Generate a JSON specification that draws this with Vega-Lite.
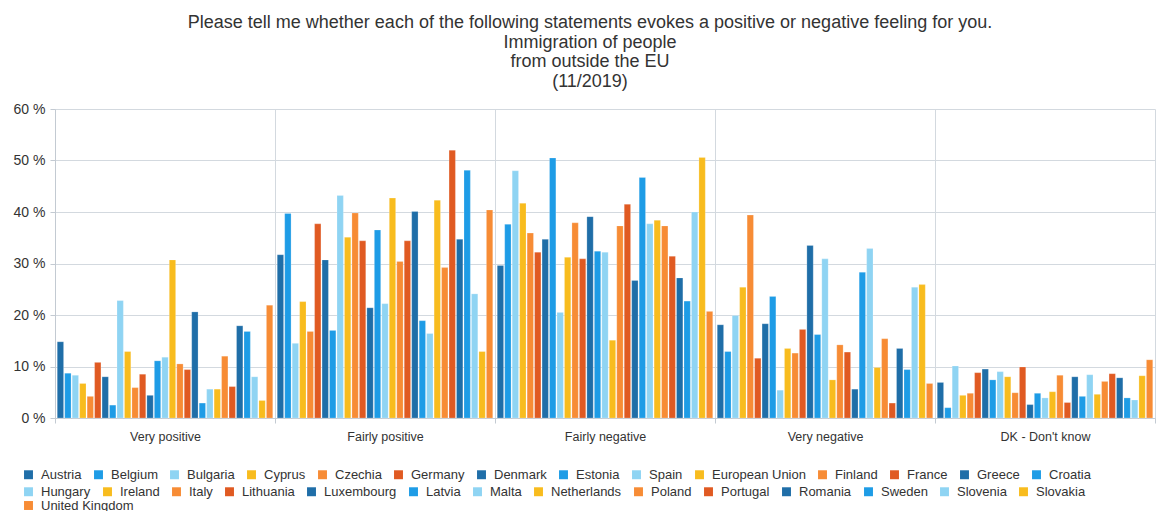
{
  "$schema": "https://vega.github.io/schema/vega-lite/v6.json",
  "autosize": "none",
  "width": 1100,
  "height": 309,
  "padding": {"left": 55, "top": 109, "right": 4, "bottom": 93},
  "background": "white",
  "title": {
    "text": ["Please tell me whether each of the following statements evokes a positive or negative feeling for you.", "Immigration of people", "from outside the EU", "(11/2019)"],
    "font": "Liberation Sans",
    "fontSize": 18,
    "fontWeight": "normal",
    "color": "#333333",
    "lineHeight": 19.7,
    "anchor": "middle",
    "dx": -15,
    "offset": 11
  },
  "data": {
    "values": [
      {"c": "Very positive", "k": "Austria", "v": 14.8},
      {"c": "Very positive", "k": "Belgium", "v": 8.7},
      {"c": "Very positive", "k": "Bulgaria", "v": 8.3},
      {"c": "Very positive", "k": "Cyprus", "v": 6.7},
      {"c": "Very positive", "k": "Czechia", "v": 4.2},
      {"c": "Very positive", "k": "Germany", "v": 10.8},
      {"c": "Very positive", "k": "Denmark", "v": 8.0},
      {"c": "Very positive", "k": "Estonia", "v": 2.5},
      {"c": "Very positive", "k": "Spain", "v": 22.8},
      {"c": "Very positive", "k": "European Union", "v": 12.9},
      {"c": "Very positive", "k": "Finland", "v": 5.9},
      {"c": "Very positive", "k": "France", "v": 8.5},
      {"c": "Very positive", "k": "Greece", "v": 4.4},
      {"c": "Very positive", "k": "Croatia", "v": 11.1},
      {"c": "Very positive", "k": "Hungary", "v": 11.8},
      {"c": "Very positive", "k": "Ireland", "v": 30.7},
      {"c": "Very positive", "k": "Italy", "v": 10.5},
      {"c": "Very positive", "k": "Lithuania", "v": 9.4},
      {"c": "Very positive", "k": "Luxembourg", "v": 20.6},
      {"c": "Very positive", "k": "Latvia", "v": 2.9},
      {"c": "Very positive", "k": "Malta", "v": 5.6},
      {"c": "Very positive", "k": "Netherlands", "v": 5.6},
      {"c": "Very positive", "k": "Poland", "v": 12.0},
      {"c": "Very positive", "k": "Portugal", "v": 6.1},
      {"c": "Very positive", "k": "Romania", "v": 17.9},
      {"c": "Very positive", "k": "Sweden", "v": 16.8},
      {"c": "Very positive", "k": "Slovenia", "v": 8.0},
      {"c": "Very positive", "k": "Slovakia", "v": 3.4},
      {"c": "Very positive", "k": "United Kingdom", "v": 21.9},
      {"c": "Fairly positive", "k": "Austria", "v": 31.7},
      {"c": "Fairly positive", "k": "Belgium", "v": 39.7},
      {"c": "Fairly positive", "k": "Bulgaria", "v": 14.5},
      {"c": "Fairly positive", "k": "Cyprus", "v": 22.6},
      {"c": "Fairly positive", "k": "Czechia", "v": 16.8},
      {"c": "Fairly positive", "k": "Germany", "v": 37.7},
      {"c": "Fairly positive", "k": "Denmark", "v": 30.7},
      {"c": "Fairly positive", "k": "Estonia", "v": 17.0},
      {"c": "Fairly positive", "k": "Spain", "v": 43.2},
      {"c": "Fairly positive", "k": "European Union", "v": 35.1},
      {"c": "Fairly positive", "k": "Finland", "v": 39.8},
      {"c": "Fairly positive", "k": "France", "v": 34.4},
      {"c": "Fairly positive", "k": "Greece", "v": 21.4},
      {"c": "Fairly positive", "k": "Croatia", "v": 36.5},
      {"c": "Fairly positive", "k": "Hungary", "v": 22.2},
      {"c": "Fairly positive", "k": "Ireland", "v": 42.7},
      {"c": "Fairly positive", "k": "Italy", "v": 30.4},
      {"c": "Fairly positive", "k": "Lithuania", "v": 34.4},
      {"c": "Fairly positive", "k": "Luxembourg", "v": 40.1},
      {"c": "Fairly positive", "k": "Latvia", "v": 18.9},
      {"c": "Fairly positive", "k": "Malta", "v": 16.4},
      {"c": "Fairly positive", "k": "Netherlands", "v": 42.3},
      {"c": "Fairly positive", "k": "Poland", "v": 29.2},
      {"c": "Fairly positive", "k": "Portugal", "v": 52.0},
      {"c": "Fairly positive", "k": "Romania", "v": 34.7},
      {"c": "Fairly positive", "k": "Sweden", "v": 48.1},
      {"c": "Fairly positive", "k": "Slovenia", "v": 24.1},
      {"c": "Fairly positive", "k": "Slovakia", "v": 12.9},
      {"c": "Fairly positive", "k": "United Kingdom", "v": 40.4},
      {"c": "Fairly negative", "k": "Austria", "v": 29.6},
      {"c": "Fairly negative", "k": "Belgium", "v": 37.6},
      {"c": "Fairly negative", "k": "Bulgaria", "v": 48.0},
      {"c": "Fairly negative", "k": "Cyprus", "v": 41.7},
      {"c": "Fairly negative", "k": "Czechia", "v": 35.9},
      {"c": "Fairly negative", "k": "Germany", "v": 32.2},
      {"c": "Fairly negative", "k": "Denmark", "v": 34.7},
      {"c": "Fairly negative", "k": "Estonia", "v": 50.5},
      {"c": "Fairly negative", "k": "Spain", "v": 20.5},
      {"c": "Fairly negative", "k": "European Union", "v": 31.2},
      {"c": "Fairly negative", "k": "Finland", "v": 37.9},
      {"c": "Fairly negative", "k": "France", "v": 30.9},
      {"c": "Fairly negative", "k": "Greece", "v": 39.1},
      {"c": "Fairly negative", "k": "Croatia", "v": 32.4},
      {"c": "Fairly negative", "k": "Hungary", "v": 32.2},
      {"c": "Fairly negative", "k": "Ireland", "v": 15.1},
      {"c": "Fairly negative", "k": "Italy", "v": 37.3},
      {"c": "Fairly negative", "k": "Lithuania", "v": 41.5},
      {"c": "Fairly negative", "k": "Luxembourg", "v": 26.7},
      {"c": "Fairly negative", "k": "Latvia", "v": 46.7},
      {"c": "Fairly negative", "k": "Malta", "v": 37.7},
      {"c": "Fairly negative", "k": "Netherlands", "v": 38.4},
      {"c": "Fairly negative", "k": "Poland", "v": 37.3},
      {"c": "Fairly negative", "k": "Portugal", "v": 31.4},
      {"c": "Fairly negative", "k": "Romania", "v": 27.2},
      {"c": "Fairly negative", "k": "Sweden", "v": 22.7},
      {"c": "Fairly negative", "k": "Slovenia", "v": 40.0},
      {"c": "Fairly negative", "k": "Slovakia", "v": 50.6},
      {"c": "Fairly negative", "k": "United Kingdom", "v": 20.7},
      {"c": "Very negative", "k": "Austria", "v": 18.1},
      {"c": "Very negative", "k": "Belgium", "v": 12.9},
      {"c": "Very negative", "k": "Bulgaria", "v": 19.9},
      {"c": "Very negative", "k": "Cyprus", "v": 25.4},
      {"c": "Very negative", "k": "Czechia", "v": 39.4},
      {"c": "Very negative", "k": "Germany", "v": 11.6},
      {"c": "Very negative", "k": "Denmark", "v": 18.3},
      {"c": "Very negative", "k": "Estonia", "v": 23.6},
      {"c": "Very negative", "k": "Spain", "v": 5.4},
      {"c": "Very negative", "k": "European Union", "v": 13.5},
      {"c": "Very negative", "k": "Finland", "v": 12.6},
      {"c": "Very negative", "k": "France", "v": 17.2},
      {"c": "Very negative", "k": "Greece", "v": 33.5},
      {"c": "Very negative", "k": "Croatia", "v": 16.2},
      {"c": "Very negative", "k": "Hungary", "v": 30.9},
      {"c": "Very negative", "k": "Ireland", "v": 7.4},
      {"c": "Very negative", "k": "Italy", "v": 14.2},
      {"c": "Very negative", "k": "Lithuania", "v": 12.8},
      {"c": "Very negative", "k": "Luxembourg", "v": 5.6},
      {"c": "Very negative", "k": "Latvia", "v": 28.3},
      {"c": "Very negative", "k": "Malta", "v": 32.9},
      {"c": "Very negative", "k": "Netherlands", "v": 9.8},
      {"c": "Very negative", "k": "Poland", "v": 15.4},
      {"c": "Very negative", "k": "Portugal", "v": 2.9},
      {"c": "Very negative", "k": "Romania", "v": 13.5},
      {"c": "Very negative", "k": "Sweden", "v": 9.4},
      {"c": "Very negative", "k": "Slovenia", "v": 25.4},
      {"c": "Very negative", "k": "Slovakia", "v": 25.9},
      {"c": "Very negative", "k": "United Kingdom", "v": 6.7},
      {"c": "DK - Don't know", "k": "Austria", "v": 6.9},
      {"c": "DK - Don't know", "k": "Belgium", "v": 2.0},
      {"c": "DK - Don't know", "k": "Bulgaria", "v": 10.1},
      {"c": "DK - Don't know", "k": "Cyprus", "v": 4.4},
      {"c": "DK - Don't know", "k": "Czechia", "v": 4.8},
      {"c": "DK - Don't know", "k": "Germany", "v": 8.8},
      {"c": "DK - Don't know", "k": "Denmark", "v": 9.5},
      {"c": "DK - Don't know", "k": "Estonia", "v": 7.4},
      {"c": "DK - Don't know", "k": "Spain", "v": 9.0},
      {"c": "DK - Don't know", "k": "European Union", "v": 8.0},
      {"c": "DK - Don't know", "k": "Finland", "v": 4.9},
      {"c": "DK - Don't know", "k": "France", "v": 9.9},
      {"c": "DK - Don't know", "k": "Greece", "v": 2.6},
      {"c": "DK - Don't know", "k": "Croatia", "v": 4.8},
      {"c": "DK - Don't know", "k": "Hungary", "v": 3.9},
      {"c": "DK - Don't know", "k": "Ireland", "v": 5.1},
      {"c": "DK - Don't know", "k": "Italy", "v": 8.3},
      {"c": "DK - Don't know", "k": "Lithuania", "v": 3.0},
      {"c": "DK - Don't know", "k": "Luxembourg", "v": 8.0},
      {"c": "DK - Don't know", "k": "Latvia", "v": 4.2},
      {"c": "DK - Don't know", "k": "Malta", "v": 8.4},
      {"c": "DK - Don't know", "k": "Netherlands", "v": 4.6},
      {"c": "DK - Don't know", "k": "Poland", "v": 7.1},
      {"c": "DK - Don't know", "k": "Portugal", "v": 8.6},
      {"c": "DK - Don't know", "k": "Romania", "v": 7.8},
      {"c": "DK - Don't know", "k": "Sweden", "v": 3.9},
      {"c": "DK - Don't know", "k": "Slovenia", "v": 3.5},
      {"c": "DK - Don't know", "k": "Slovakia", "v": 8.2},
      {"c": "DK - Don't know", "k": "United Kingdom", "v": 11.3}
    ]
  },
  "encoding": {
    "x": {
      "field": "c",
      "type": "nominal",
      "sort": ["Very positive", "Fairly positive", "Fairly negative", "Very negative", "DK - Don't know"],
      "scale": {"paddingInner": 0, "paddingOuter": 0},
      "axis": {
        "title": null,
        "labelAngle": 0,
        "tickBand": "extent",
        "grid": true,
        "gridColor": "#d3d9df",
        "tickColor": "#c3cad2",
        "tickSize": 5,
        "domainColor": "#c3cad2",
        "labelFont": "Liberation Sans",
        "labelFontSize": 12.5,
        "labelColor": "#333333",
        "labelPadding": 7
      }
    },
    "xOffset": {
      "field": "k",
      "type": "nominal",
      "scale": {
        "domain": ["Austria", "Belgium", "Bulgaria", "Cyprus", "Czechia", "Germany", "Denmark", "Estonia", "Spain", "European Union", "Finland", "France", "Greece", "Croatia", "Hungary", "Ireland", "Italy", "Lithuania", "Luxembourg", "Latvia", "Malta", "Netherlands", "Poland", "Portugal", "Romania", "Sweden", "Slovenia", "Slovakia", "United Kingdom"],
        "paddingInner": 0.15,
        "paddingOuter": 0.3
      }
    },
    "y": {
      "field": "v",
      "type": "quantitative",
      "scale": {"domain": [0, 60], "nice": false},
      "axis": {
        "title": null,
        "values": [0, 10, 20, 30, 40, 50, 60],
        "labelExpr": "datum.value + ' %'",
        "gridColor": "#d3d9df",
        "domainColor": "#c3cad2",
        "tickColor": "#c3cad2",
        "tickSize": 5,
        "labelFont": "Liberation Sans",
        "labelFontSize": 14,
        "labelColor": "#333333",
        "labelPadding": 5
      }
    }
  },
  "layer": [
    {
      "transform": [{"filter": {"field": "k", "oneOf": ["Austria", "Belgium", "Bulgaria", "Cyprus", "Czechia", "Germany", "Denmark", "Estonia", "Spain", "European Union", "Finland", "France", "Greece", "Croatia"]}}],
      "mark": {"type": "bar", "stroke": "white", "strokeOpacity": 0.35, "strokeWidth": 0.6},
      "encoding": {
        "color": {
          "field": "k",
          "type": "nominal",
          "scale": {
            "domain": ["Austria", "Belgium", "Bulgaria", "Cyprus", "Czechia", "Germany", "Denmark", "Estonia", "Spain", "European Union", "Finland", "France", "Greece", "Croatia"],
            "range": ["#1f6ea8", "#1e9ce6", "#8fd4f3", "#f8bc1e", "#f78c35", "#e05a22", "#1f6ea8", "#1e9ce6", "#8fd4f3", "#f8bc1e", "#f78c35", "#e05a22", "#1f6ea8", "#1e9ce6"]
          },
          "legend": {"legendY": 359}
        }
      }
    },
    {
      "transform": [{"filter": {"field": "k", "oneOf": ["Hungary", "Ireland", "Italy", "Lithuania", "Luxembourg", "Latvia", "Malta", "Netherlands", "Poland", "Portugal", "Romania", "Sweden", "Slovenia", "Slovakia"]}}],
      "mark": {"type": "bar", "stroke": "white", "strokeOpacity": 0.35, "strokeWidth": 0.6},
      "encoding": {
        "color": {
          "field": "k",
          "type": "nominal",
          "scale": {
            "domain": ["Hungary", "Ireland", "Italy", "Lithuania", "Luxembourg", "Latvia", "Malta", "Netherlands", "Poland", "Portugal", "Romania", "Sweden", "Slovenia", "Slovakia"],
            "range": ["#8fd4f3", "#f8bc1e", "#f78c35", "#e05a22", "#1f6ea8", "#1e9ce6", "#8fd4f3", "#f8bc1e", "#f78c35", "#e05a22", "#1f6ea8", "#1e9ce6", "#8fd4f3", "#f8bc1e"]
          },
          "legend": {"legendY": 376}
        }
      }
    },
    {
      "transform": [{"filter": {"field": "k", "oneOf": ["United Kingdom"]}}],
      "mark": {"type": "bar", "stroke": "white", "strokeOpacity": 0.35, "strokeWidth": 0.6},
      "encoding": {
        "color": {
          "field": "k",
          "type": "nominal",
          "scale": {"domain": ["United Kingdom"], "range": ["#f78c35"]},
          "legend": {"legendY": 390}
        }
      }
    }
  ],
  "resolve": {"scale": {"color": "independent"}, "legend": {"color": "independent"}},
  "config": {
    "view": {"stroke": null},
    "legend": {
      "title": null,
      "orient": "none",
      "legendX": -33,
      "direction": "horizontal",
      "symbolType": "square",
      "symbolSize": 80,
      "symbolStrokeWidth": 0,
      "labelFont": "Liberation Sans",
      "labelFontSize": 13,
      "labelColor": "#333333",
      "labelOffset": 6,
      "columnPadding": 10,
      "rowPadding": 3,
      "labelLimit": 200
    }
  }
}
